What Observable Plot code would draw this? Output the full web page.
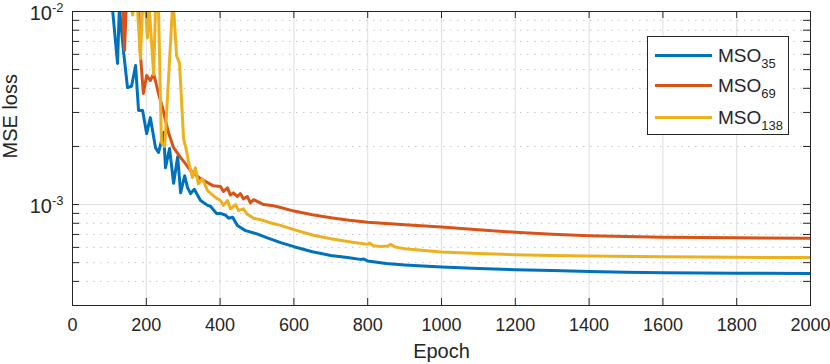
<!DOCTYPE html>
<html>
<head>
<meta charset="utf-8">
<script src="https://cdn.jsdelivr.net/npm/d3@7"></script>
<script src="https://cdn.jsdelivr.net/npm/@observablehq/plot@0.6"></script>
<style>
  html, body { margin: 0; padding: 0; background: #ffffff; }
  #wrap { position: relative; width: 830px; height: 364px; font-family: "Liberation Sans", Arial, Helvetica, sans-serif; color: #262626; }
  #legend { position: absolute; left: 647px; top: 36px; width: 140px; height: 97px; border: 1px solid #262626; background: #ffffff; }
  .sw { position: absolute; left: 7px; width: 57px; height: 3px; }
  .lab { position: absolute; left: 70px; font-size: 19px; line-height: 19px; white-space: nowrap; }
  .lab sub { font-size: 13px; vertical-align: -6px; line-height: 0; }
</style>
</head>
<body>
<div id="wrap">
  <div id="chart"></div>
  <div id="legend"></div>
</div>
<script>
// ---- data ----
const seriesNames = ["MSO", "MSO", "MSO"];
const seriesSubs = ["35", "69", "138"];
const seriesColors = ["#0072BD", "#D95319", "#EDB120"];

const mso35Epoch = [100,108,122,127,138,149,160,171,179,190,201,211,225,233,247,252,263,274,285,293,304,312,320,330,347,366,374,390,401,415,423,434,447,455,469,500,530,564,600,650,700,750,780,790,800,850,900,1000,1100,1200,1300,1400,1500,1600,1800,2000];
const mso35Loss = [0.02,0.0105,0.00538,0.0105,0.00628,0.00404,0.0041,0.00525,0.00307,0.00307,0.00233,0.00282,0.00197,0.00186,0.00236,0.00155,0.00195,0.00129,0.00177,0.00115,0.00141,0.00122,0.00114,0.0012,0.00105,0.00099,0.00098,0.0009,0.0009,0.00088,0.00085,0.00086,0.000778,0.00076,0.000733,0.000705,0.00067,0.000635,0.000605,0.00057,0.000545,0.00053,0.00052,0.000522,0.00051,0.000495,0.000487,0.000475,0.000466,0.00046,0.000455,0.00045,0.000446,0.000444,0.000441,0.000439];

const mso69Epoch = [120,136,141,146,179,184,192,201,211,220,233,244,260,274,293,306,320,347,382,401,409,420,428,436,447,455,463,474,482,491,518,540,564,600,650,700,750,800,900,1000,1100,1200,1300,1400,1500,1600,1800,2000];
const mso69Loss = [0.02,0.0105,0.00628,0.011,0.011,0.006,0.00376,0.00466,0.00439,0.00477,0.00376,0.00318,0.00236,0.00197,0.00175,0.00163,0.0015,0.00136,0.00125,0.00124,0.00117,0.00122,0.00112,0.00115,0.0011,0.00114,0.00107,0.0011,0.00102,0.00106,0.001,0.00099,0.000965,0.000925,0.000885,0.000855,0.00083,0.00081,0.000785,0.000765,0.00074,0.000718,0.000702,0.00069,0.000683,0.000678,0.000673,0.00067];

const mso138Epoch = [150,160,163,166,176,184,190,198,203,208,220,225,233,241,250,271,274,282,290,301,309,314,325,333,341,352,366,380,390,401,409,420,428,442,450,463,474,491,518,540,564,600,650,700,750,800,805,815,835,855,862,875,900,1000,1100,1200,1300,1400,1600,1800,2000];
const mso138Loss = [0.02,0.0105,0.0096,0.0105,0.0105,0.0057,0.0105,0.0105,0.0073,0.0105,0.0047,0.0105,0.0105,0.0021,0.002,0.0105,0.0105,0.0059,0.0054,0.0022,0.0019,0.00169,0.00138,0.00155,0.00128,0.00136,0.00118,0.00112,0.00108,0.00105,0.00099,0.00105,0.00095,0.001,0.00093,0.00095,0.00089,0.00085,0.000826,0.0008,0.00078,0.000742,0.000695,0.000665,0.000642,0.000622,0.000632,0.000612,0.000606,0.00061,0.000622,0.000602,0.00059,0.000568,0.000557,0.00055,0.000545,0.000541,0.000536,0.000533,0.000531];

const xTicks = [0,200,400,600,800,1000,1200,1400,1600,1800,2000];
const yMajor = [1e-3, 1e-2];
const yMinor = [4e-4,5e-4,6e-4,7e-4,8e-4,9e-4,2e-3,3e-3,4e-3,5e-3,6e-3,7e-3,8e-3,9e-3];
const xLabel = "Epoch";
const yLabel = "MSE loss";

// ---- build table ----
const epochs = [mso35Epoch, mso69Epoch, mso138Epoch];
const losses = [mso35Loss, mso69Loss, mso138Loss];
const data = [];
epochs.forEach((ep, s) => ep.forEach((e, i) => data.push({series: s, epoch: e, loss: losses[s][i]})));

const W = 830, H = 364, ML = 72, MR = 20, MT = 11, MB = 59;
const fw = W - ML - MR, fh = H - MT - MB;
const tl = 7;
const axisColor = "#262626";

const lineMarks = [0, 1, 2].map(s =>
  Plot.line(data.filter(d => d.series === s), {x: "epoch", y: "loss", stroke: seriesColors[s], strokeWidth: 3, clip: true})
);

const chart = Plot.plot({
  width: W, height: H,
  marginLeft: ML, marginRight: MR, marginTop: MT, marginBottom: MB,
  style: {fontFamily: '"Liberation Sans", Arial, Helvetica, sans-serif', fontSize: "18px", color: axisColor, background: "#ffffff", overflow: "visible"},
  x: {domain: [0, 2000]},
  y: {type: "log", domain: [3e-4, 1e-2]},
  marks: [
    Plot.ruleX(xTicks.slice(1, -1), {stroke: "#dfdfdf", strokeWidth: 1}),
    Plot.ruleY(yMinor, {stroke: "#c4c4c4", strokeDasharray: "1.5,5.5", strokeWidth: 1}),
    Plot.ruleY([1e-3], {stroke: "#dfdfdf", strokeWidth: 1}),
    ...lineMarks,
    Plot.ruleX(xTicks, {insetTop: fh - tl, stroke: axisColor}),
    Plot.ruleX(xTicks, {insetBottom: fh - tl, stroke: axisColor}),
    Plot.ruleY([...yMajor, ...yMinor], {insetRight: fw - tl, stroke: axisColor}),
    Plot.ruleY([...yMajor, ...yMinor], {insetLeft: fw - tl, stroke: axisColor}),
    Plot.frame({stroke: axisColor}),
    Plot.axisX(xTicks, {tickSize: 0, tickPadding: 13, label: null, fontSize: 18, tickFormat: d => String(d)}),
    Plot.axisY(yMajor, {tickSize: 0, tickPadding: 9, label: null, fontSize: 20, dy: 2,
      tickFormat: d => "10^" + Math.round(Math.log10(d))}),
    Plot.text([xLabel], {frameAnchor: "bottom", dy: 46, fontSize: 20, lineAnchor: "middle", fill: axisColor}),
    Plot.text([yLabel], {frameAnchor: "left", dx: -62, rotate: -90, fontSize: 20, lineAnchor: "middle", fill: axisColor})
  ]
});

// superscript exponents on the log tick labels
const ns = "http://www.w3.org/2000/svg";
chart.querySelectorAll('g[aria-label="y-axis tick label"] text').forEach(t => {
  const s = t.textContent;
  if (!s.includes("^")) return;
  const [b, e] = s.split("^");
  t.textContent = "";
  const t1 = document.createElementNS(ns, "tspan");
  t1.textContent = b;
  const t2 = document.createElementNS(ns, "tspan");
  t2.textContent = e;
  t2.setAttribute("font-size", "13");
  t2.setAttribute("dy", "-8");
  t.appendChild(t1);
  t.appendChild(t2);
});

document.getElementById("chart").appendChild(chart);

// legend
const legend = document.getElementById("legend");
const rowY = [18, 48, 80];
[0, 1, 2].forEach(s => {
  const sw = document.createElement("div");
  sw.className = "sw";
  sw.style.top = (rowY[s] - 1.5) + "px";
  sw.style.background = seriesColors[s];
  legend.appendChild(sw);
  const lab = document.createElement("div");
  lab.className = "lab";
  lab.style.top = (rowY[s] - 9.5) + "px";
  lab.innerHTML = seriesNames[s] + "<sub>" + seriesSubs[s] + "</sub>";
  legend.appendChild(lab);
});
</script>
</body>
</html>
